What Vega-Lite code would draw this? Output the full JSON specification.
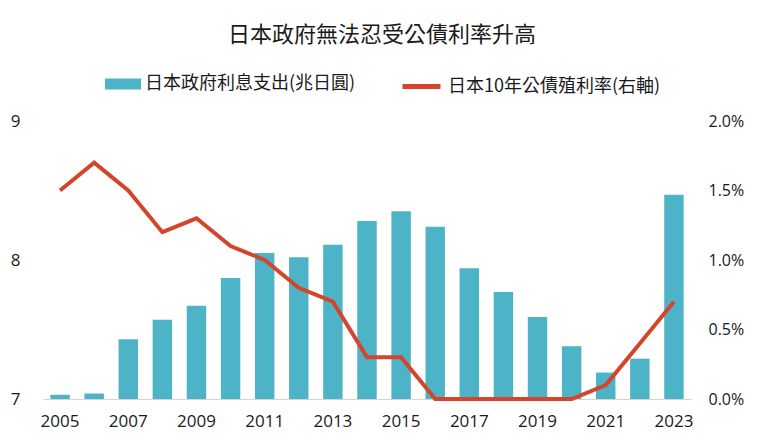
{
  "$schema": "https://vega.github.io/schema/vega-lite/v6.json",
  "width": 648,
  "height": 278,
  "autosize": {"type": "none"},
  "padding": {"left": 43, "top": 121, "right": 69, "bottom": 47},
  "background": "white",
  "config": {
    "font": "Noto Sans CJK TC",
    "view": {"stroke": null},
    "axis": {"labelFont": "Open Sans", "labelColor": "#1a1a1a", "labelFontSize": 16, "grid": false, "ticks": false, "title": null},
    "legend": {"labelFont": "Noto Sans CJK TC", "labelColor": "#1a1a1a", "labelFontSize": 18, "labelLimit": 400, "padding": 0, "title": null}
  },
  "title": {
    "text": "日本政府無法忍受公債利率升高",
    "fontSize": 22,
    "fontWeight": "normal",
    "color": "#1a1a1a",
    "font": "Noto Sans CJK TC",
    "anchor": "middle",
    "dx": 15,
    "offset": 18
  },
  "data": {
    "values": [
      {"year": 2005, "spend": 7.03, "yield": 0.015},
      {"year": 2006, "spend": 7.04, "yield": 0.017},
      {"year": 2007, "spend": 7.43, "yield": 0.015},
      {"year": 2008, "spend": 7.57, "yield": 0.012},
      {"year": 2009, "spend": 7.67, "yield": 0.013},
      {"year": 2010, "spend": 7.87, "yield": 0.011},
      {"year": 2011, "spend": 8.05, "yield": 0.010},
      {"year": 2012, "spend": 8.02, "yield": 0.008},
      {"year": 2013, "spend": 8.11, "yield": 0.007},
      {"year": 2014, "spend": 8.28, "yield": 0.003},
      {"year": 2015, "spend": 8.35, "yield": 0.003},
      {"year": 2016, "spend": 8.24, "yield": 0.0},
      {"year": 2017, "spend": 7.94, "yield": 0.0},
      {"year": 2018, "spend": 7.77, "yield": 0.0},
      {"year": 2019, "spend": 7.59, "yield": 0.0},
      {"year": 2020, "spend": 7.38, "yield": 0.0},
      {"year": 2021, "spend": 7.19, "yield": 0.001},
      {"year": 2022, "spend": 7.29, "yield": 0.004},
      {"year": 2023, "spend": 8.47, "yield": 0.007}
    ]
  },
  "encoding": {
    "x": {
      "field": "year",
      "type": "ordinal",
      "scale": {"paddingInner": 0.43, "paddingOuter": 0.215},
      "axis": {
        "labelAngle": 0,
        "labelExpr": "datum.value % 2 == 1 ? '' + datum.value : ''",
        "labelOverlap": false,
        "labelPadding": 14,
        "labelFontSize": 17,
        "domain": true,
        "domainColor": "#d4d4d4",
        "domainWidth": 1
      }
    }
  },
  "layer": [
    {
      "mark": {"type": "bar", "clip": true},
      "encoding": {
        "y": {
          "field": "spend",
          "type": "quantitative",
          "scale": {"domain": [7, 9], "zero": false, "nice": false},
          "axis": {"orient": "left", "values": [7, 8, 9], "labelExpr": "'' + datum.value", "domain": false, "labelPadding": 23, "labelFontSize": 17}
        },
        "y2": {"datum": 7},
        "fill": {
          "datum": "日本政府利息支出(兆日圓)",
          "scale": {"range": ["#4DB3C6"]},
          "legend": {
            "orient": "none",
            "legendX": 62,
            "legendY": -55,
            "symbolType": "M-1,-0.3H1V0.3H-1Z",
            "symbolSize": 1296,
            "symbolStrokeWidth": 0,
            "labelOffset": 4
          }
        }
      }
    },
    {
      "mark": {"type": "line", "strokeWidth": 4, "strokeJoin": "miter"},
      "encoding": {
        "y": {
          "field": "yield",
          "type": "quantitative",
          "scale": {"domain": [0, 0.02], "nice": false},
          "axis": {"orient": "right", "values": [0, 0.005, 0.01, 0.015, 0.02], "format": ".1%", "domain": false, "labelPadding": 17}
        },
        "stroke": {
          "datum": "日本10年公債殖利率(右軸)",
          "scale": {"range": ["#D4452B"]},
          "legend": {
            "orient": "none",
            "legendX": 357,
            "legendY": -56,
            "symbolType": "stroke",
            "symbolSize": 1444,
            "symbolStrokeWidth": 5,
            "labelOffset": 5
          }
        }
      }
    }
  ],
  "resolve": {"scale": {"y": "independent"}}
}
